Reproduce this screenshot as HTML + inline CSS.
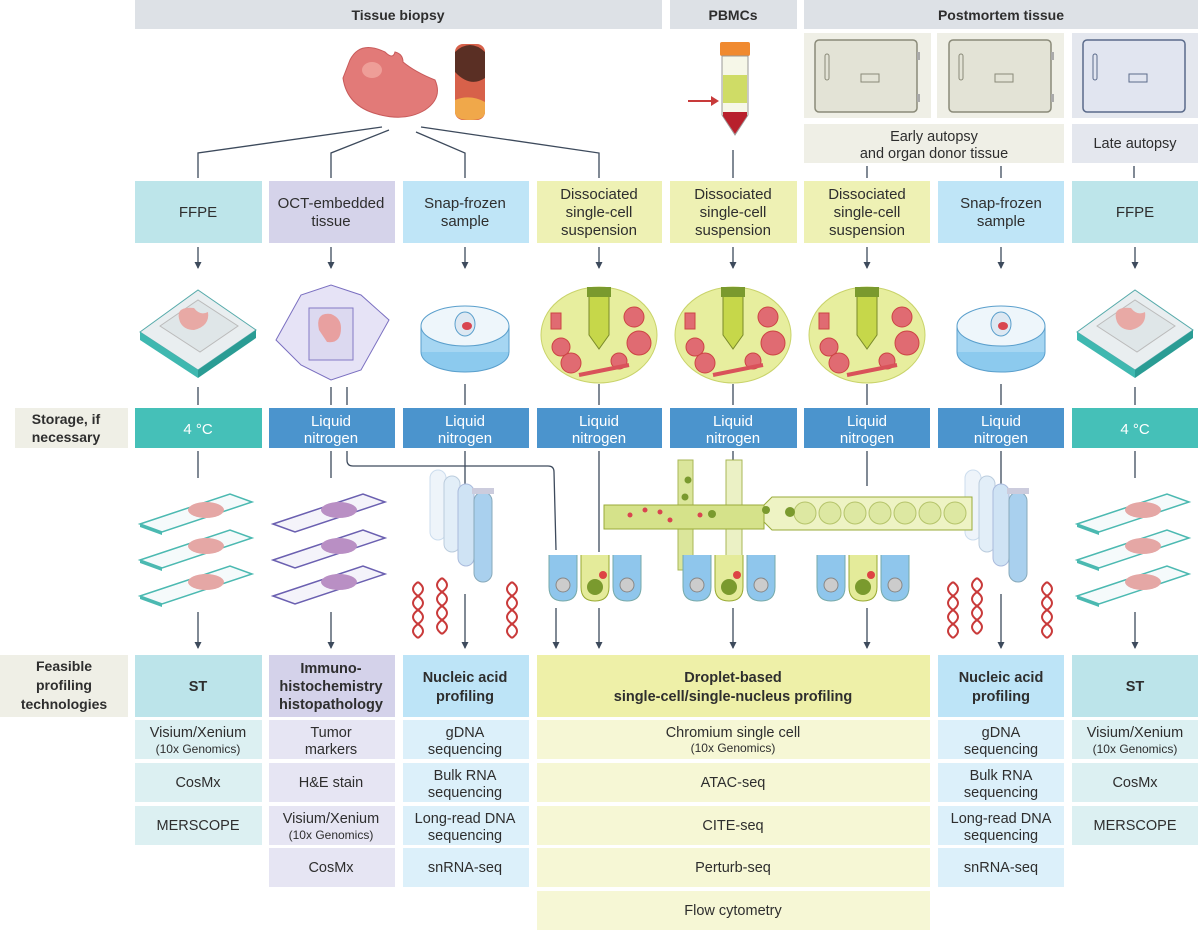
<!DOCTYPE html>
<html><head><meta charset="utf-8"><style>
html,body{margin:0;padding:0;background:#fff}
svg{display:block}
text{font-family:"Liberation Sans",sans-serif;fill:#2e2e2e;text-anchor:middle}
.b{font-weight:bold}
.w{fill:#fff}
.ln{stroke:#3d4a5c;stroke-width:1.3;fill:none}
</style></head><body>
<svg width="1200" height="933" viewBox="0 0 1200 933" xmlns="http://www.w3.org/2000/svg">
<defs>
<marker id="ah" markerWidth="8" markerHeight="8" refX="6" refY="3.5" orient="auto" markerUnits="userSpaceOnUse">
<path d="M0,0 L7,3.5 L0,7 Z" fill="#3d4a5c"/></marker>
<g id="cass">
<path d="M-58,20 L0,-22 L58,18 L0,58 Z" fill="#e9eef0" stroke="#5aa" stroke-width="1"/>
<path d="M-58,20 L0,58 L0,66 L-58,28 Z" fill="#3fb8b0"/>
<path d="M0,58 L58,18 L58,26 L0,66 Z" fill="#2a9c94"/>
<path d="M-38,14 L0,-12 L40,14 L2,40 Z" fill="#dfe6e8" stroke="#bbb"/>
<path d="M-18,10 q-6,-16 14,-14 q6,8 14,4 q2,14 -14,18 q-10,0 -14,-8z" fill="#e8a9a5"/>
</g>
<g id="bowl">
<ellipse cx="0" cy="0" rx="58" ry="48" fill="#e7ee9e" stroke="#c9d36a"/>
<circle cx="-38" cy="12" r="9" fill="#e06b72" stroke="#c44"/>
<circle cx="35" cy="-18" r="10" fill="#e06b72" stroke="#c44"/>
<circle cx="40" cy="8" r="12" fill="#e06b72" stroke="#c44"/>
<circle cx="-28" cy="28" r="10" fill="#e06b72" stroke="#c44"/>
<circle cx="20" cy="26" r="8" fill="#e06b72" stroke="#c44"/>
<rect x="-48" y="-22" width="10" height="16" fill="#e06b72" stroke="#c44"/>
<path d="M-20,40 L30,30" stroke="#d9525a" stroke-width="4"/>
<path d="M-10,-40 L10,-40 L10,0 L0,14 L-10,0 Z" fill="#c6d74a" stroke="#7a8a2a"/>
<rect x="-12" y="-48" width="24" height="10" fill="#7a9a2e"/>
</g>
<g id="tubes">
<rect x="-40" y="-30" width="16" height="70" rx="8" fill="#eef4fa" stroke="#cde"/>
<rect x="-26" y="-24" width="16" height="76" rx="8" fill="#e2eef8" stroke="#bcd"/>
<rect x="-12" y="-16" width="16" height="82" rx="8" fill="#cfe3f4" stroke="#abd"/>
<rect x="4" y="-8" width="18" height="90" rx="9" fill="#a9d0ee" stroke="#8ab"/>
<rect x="2" y="-12" width="22" height="6" fill="#ccd"/>
</g>
<g id="dna">
<path d="M0,0 q10,7 0,14 q-10,7 0,14 q10,7 0,14 q-10,7 0,14" stroke="#c93a3a" stroke-width="2" fill="none"/>
<path d="M0,0 q-10,7 0,14 q10,7 0,14 q-10,7 0,14 q10,7 0,14" stroke="#c93a3a" stroke-width="2" fill="none"/>
</g>
<g id="wells">
<path d="M-50,0 L-50,32 q0,14 14,14 q14,0 14,-14 L-22,0" fill="#8fc6ec" stroke="#7aa"/>
<path d="M-18,0 L-18,32 q0,14 14,14 q14,0 14,-14 L10,0" fill="#e4eb9a" stroke="#9a3"/>
<path d="M14,0 L14,32 q0,14 14,14 q14,0 14,-14 L42,0" fill="#8fc6ec" stroke="#7aa"/>
<circle cx="-36" cy="30" r="7" fill="#ccc" stroke="#888"/><circle cx="-4" cy="32" r="8" fill="#7a9a2e"/><circle cx="4" cy="20" r="4" fill="#d44"/><circle cx="28" cy="30" r="7" fill="#ccc" stroke="#888"/>
</g>
<g id="slide">
<path d="M0,0 L90,-30 L112,-22 L22,8 Z" fill="#f5fafb" stroke="#4bb9b1" stroke-width="1.5"/>
<path d="M0,0 L22,8 L22,11 L0,3 Z" fill="#4bb9b1"/>
<ellipse cx="66" cy="-14" rx="18" ry="8" fill="#e5a7a5"/>
</g>
<g id="fridge">
<rect x="-52" y="-36" width="102" height="72" rx="4" fill="#e3e3d6" stroke="#8a8a78" stroke-width="1.5"/>
<rect x="-42" y="-22" width="4" height="26" rx="2" fill="none" stroke="#8a8a78"/>
<rect x="-6" y="-2" width="18" height="8" fill="none" stroke="#8a8a78"/>
<rect x="50" y="-24" width="3" height="8" fill="#aaa"/><rect x="50" y="18" width="3" height="8" fill="#aaa"/>
</g>
<g id="dish">
<ellipse cx="0" cy="24" rx="44" ry="20" fill="#8ccaee" stroke="#5a9fcc"/>
<rect x="-44" y="-2" width="88" height="26" fill="#a6d6f2"/>
<line x1="-44" y1="-2" x2="-44" y2="24" stroke="#5a9fcc"/><line x1="44" y1="-2" x2="44" y2="24" stroke="#5a9fcc"/>
<ellipse cx="0" cy="-2" rx="44" ry="20" fill="#eef6fb" stroke="#5a9fcc"/>
<ellipse cx="0" cy="-4" rx="10" ry="12" fill="#dde8f2" stroke="#5a9fcc"/>
<ellipse cx="2" cy="-2" rx="5" ry="4" fill="#d9454f"/>
</g>
</defs>

<rect x="135" y="0" width="527" height="29" fill="#dde1e6"/>
<rect x="670" y="0" width="127" height="29" fill="#dde1e6"/>
<rect x="804" y="0" width="394" height="29" fill="#dde1e6"/>
<text x="398" y="20" class="b" font-size="14">Tissue biopsy</text>
<text x="733" y="20" class="b" font-size="14">PBMCs</text>
<text x="1001" y="20" class="b" font-size="14">Postmortem tissue</text>

<path d="M350,60 q10,-20 35,-8 q8,8 10,0 q8,2 8,10 q12,10 32,18 q8,18 -10,30 q-20,12 -48,4 q-30,-8 -34,-36 z" fill="#e27a78" stroke="#c85a5a"/>
<ellipse cx="372" cy="70" rx="10" ry="8" fill="#ee9e98"/>
<rect x="455" y="44" width="30" height="76" rx="8" fill="#d7614a"/>
<path d="M455,52 q15,-14 30,0 L485,78 q-15,10 -30,-6 z" fill="#5a2f24"/>
<path d="M455,100 q15,-6 30,2 L485,112 q0,8 -15,8 q-15,0 -15,-8z" fill="#f0a84a"/>
<rect x="720" y="42" width="30" height="14" rx="2" fill="#f08a30"/>
<path d="M722,56 L748,56 L748,115 L735,135 L722,115 Z" fill="#f6f7e8" stroke="#999"/>
<rect x="723" y="75" width="24" height="28" fill="#cfdc66"/>
<path d="M723,112 L747,112 L747,116 L735,134 L723,116 Z" fill="#b8202c"/>
<line x1="688" y1="101" x2="712" y2="101" stroke="#c83a3a" stroke-width="2"/><path d="M711,96 L719,101 L711,106 Z" fill="#c83a3a"/>
<rect x="804" y="33" width="127" height="85" fill="#efefe6"/>
<rect x="937" y="33" width="127" height="85" fill="#efefe6"/>
<rect x="1072" y="33" width="126" height="85" fill="#e4e7ee"/>
<use href="#fridge" x="867" y="76"/><use href="#fridge" x="1001" y="76"/>
<g transform="translate(1135,76)"><rect x="-52" y="-36" width="102" height="72" rx="4" fill="#e1e5f0" stroke="#5a6a8a" stroke-width="1.5"/><rect x="-42" y="-22" width="4" height="26" rx="2" fill="none" stroke="#5a6a8a"/><rect x="-6" y="-2" width="18" height="8" fill="none" stroke="#5a6a8a"/></g>
<rect x="804" y="124" width="260" height="39" fill="#efefe6"/>
<rect x="1072" y="124" width="126" height="39" fill="#e4e7ee"/>
<text x="934" y="141" font-size="14.5">Early autopsy</text>
<text x="934" y="158" font-size="14.5">and organ donor tissue</text>
<text x="1135" y="148" font-size="14.5">Late autopsy</text>

<path class="ln" d="M382,127 L198,153 L198,178"/>
<path class="ln" d="M389,130 L331,153 L331,178"/>
<path class="ln" d="M416,132 L465,153 L465,178"/>
<path class="ln" d="M421,127 L599,153 L599,178"/>
<path class="ln" d="M733,150 L733,178"/>
<path class="ln" d="M867,166 L867,178 M1001,166 L1001,178 M1134,166 L1134,178"/>

<rect x="135" y="181" width="127" height="62" fill="#bde5ea"/>
<rect x="269" y="181" width="126" height="62" fill="#d5d3ea"/>
<rect x="403" y="181" width="126" height="62" fill="#bfe5f7"/>
<rect x="537" y="181" width="125" height="62" fill="#eef1b4"/>
<rect x="670" y="181" width="127" height="62" fill="#eef1b4"/>
<rect x="804" y="181" width="126" height="62" fill="#eef1b4"/>
<rect x="938" y="181" width="126" height="62" fill="#bfe5f7"/>
<rect x="1072" y="181" width="126" height="62" fill="#bde5ea"/>
<g font-size="15">
<text x="198" y="217">FFPE</text>
<text x="331" y="208">OCT-embedded</text><text x="331" y="226">tissue</text>
<text x="465" y="208">Snap-frozen</text><text x="465" y="226">sample</text>
<text x="599" y="199">Dissociated</text><text x="599" y="217">single-cell</text><text x="599" y="235">suspension</text>
<text x="733" y="199">Dissociated</text><text x="733" y="217">single-cell</text><text x="733" y="235">suspension</text>
<text x="867" y="199">Dissociated</text><text x="867" y="217">single-cell</text><text x="867" y="235">suspension</text>
<text x="1001" y="208">Snap-frozen</text><text x="1001" y="226">sample</text>
<text x="1135" y="217">FFPE</text>
</g>

<g class="ln" marker-end="url(#ah)">
<path d="M198,247 L198,268"/><path d="M331,247 L331,268"/><path d="M465,247 L465,268"/><path d="M599,247 L599,268"/>
<path d="M733,247 L733,268"/><path d="M867,247 L867,268"/><path d="M1001,247 L1001,268"/><path d="M1135,247 L1135,268"/>
</g>

<use href="#cass" x="198" y="312"/>
<use href="#cass" x="1135" y="312"/>
<g transform="translate(331,330)">
<path d="M-55,10 L-30,-35 L0,-45 L30,-35 L58,-10 L30,40 L0,50 L-30,35 Z" fill="#e6e3f6" stroke="#7a6fc0"/>
<rect x="-22" y="-22" width="44" height="52" fill="#dcd8f0" stroke="#7a6fc0" opacity=".9"/>
<path d="M-12,0 q-4,-18 12,-16 q10,4 10,14 q0,16 -14,14 z" fill="#e8a0a0"/>
</g>
<use href="#dish" x="465" y="328"/>
<use href="#dish" x="1001" y="328"/>
<use href="#bowl" x="599" y="335"/>
<use href="#bowl" x="733" y="335"/>
<use href="#bowl" x="867" y="335"/>

<path class="ln" d="M198,387 L198,405 M331,387 L331,405 M347,387 L347,405 M465,384 L465,405 M599,384 L599,405 M733,384 L733,405 M867,384 L867,405 M1001,384 L1001,405 M1135,387 L1135,405"/>

<rect x="15" y="408" width="113" height="40" fill="#efefe6"/>
<text x="66" y="424" class="b" font-size="14">Storage, if</text>
<text x="66" y="442" class="b" font-size="14">necessary</text>
<rect x="135" y="408" width="127" height="40" fill="#45c0b8"/>
<rect x="269" y="408" width="126" height="40" fill="#4b94cd"/>
<rect x="403" y="408" width="126" height="40" fill="#4b94cd"/>
<rect x="537" y="408" width="125" height="40" fill="#4b94cd"/>
<rect x="670" y="408" width="127" height="40" fill="#4b94cd"/>
<rect x="804" y="408" width="126" height="40" fill="#4b94cd"/>
<rect x="938" y="408" width="126" height="40" fill="#4b94cd"/>
<rect x="1072" y="408" width="126" height="40" fill="#45c0b8"/>
<g font-size="15">
<text x="198" y="434" class="w">4 °C</text>
<text x="1135" y="434" class="w">4 °C</text>
<text x="331" y="426" class="w">Liquid</text><text x="331" y="443" class="w">nitrogen</text>
<text x="465" y="426" class="w">Liquid</text><text x="465" y="443" class="w">nitrogen</text>
<text x="599" y="426" class="w">Liquid</text><text x="599" y="443" class="w">nitrogen</text>
<text x="733" y="426" class="w">Liquid</text><text x="733" y="443" class="w">nitrogen</text>
<text x="867" y="426" class="w">Liquid</text><text x="867" y="443" class="w">nitrogen</text>
<text x="1001" y="426" class="w">Liquid</text><text x="1001" y="443" class="w">nitrogen</text>
</g>

<path class="ln" d="M198,451 L198,478 M1135,451 L1135,478 M331,451 L331,478 M465,451 L465,486 M599,451 L599,552 M733,451 L733,460 M867,451 L867,486 M1001,451 L1001,486"/>
<path class="ln" d="M347,451 L347,460 q0,6 6,6 L548,466 q6,0 6,6 L556,550"/>

<use href="#slide" x="140" y="524"/><use href="#slide" x="140" y="560"/><use href="#slide" x="140" y="596"/>
<use href="#slide" x="1077" y="524"/><use href="#slide" x="1077" y="560"/><use href="#slide" x="1077" y="596"/>
<g transform="translate(273,0)">
<path d="M0,524 L90,494 L112,502 L22,532 Z" fill="#f4f3fa" stroke="#6a5fb0" stroke-width="1.5"/><ellipse cx="66" cy="510" rx="18" ry="8" fill="#b98fc4"/>
<path d="M0,560 L90,530 L112,538 L22,568 Z" fill="#f4f3fa" stroke="#6a5fb0" stroke-width="1.5"/><ellipse cx="66" cy="546" rx="18" ry="8" fill="#b98fc4"/>
<path d="M0,596 L90,566 L112,574 L22,604 Z" fill="#f4f3fa" stroke="#6a5fb0" stroke-width="1.5"/><ellipse cx="66" cy="582" rx="18" ry="8" fill="#b98fc4"/>
</g>
<use href="#tubes" x="470" y="500"/>
<use href="#tubes" x="1005" y="500"/>
<use href="#dna" x="418" y="582"/><use href="#dna" x="442" y="578"/><use href="#dna" x="512" y="582"/>
<use href="#dna" x="953" y="582"/><use href="#dna" x="977" y="578"/><use href="#dna" x="1047" y="582"/>

<rect x="678" y="460" width="15" height="110" fill="#d5e28a" stroke="#9aab3a" opacity=".85"/>
<rect x="726" y="460" width="16" height="110" fill="#e8efbc" stroke="#9aab3a" opacity=".85"/>
<rect x="604" y="505" width="160" height="24" fill="#d5e28a" stroke="#9aab3a"/>
<path d="M764,505 L772,497 L972,497 L972,530 L772,530 L764,522 Z" fill="#eef3c4" stroke="#9aab3a"/>
<g fill="#dde8a2" stroke="#b5c46a"><circle cx="805" cy="513" r="11"/><circle cx="830" cy="513" r="11"/><circle cx="855" cy="513" r="11"/><circle cx="880" cy="513" r="11"/><circle cx="905" cy="513" r="11"/><circle cx="930" cy="513" r="11"/><circle cx="955" cy="513" r="11"/></g>
<g fill="#d9454f"><circle cx="630" cy="515" r="2.5"/><circle cx="645" cy="510" r="2.5"/><circle cx="660" cy="512" r="2.5"/><circle cx="670" cy="520" r="2.5"/><circle cx="700" cy="515" r="2.5"/></g>
<g fill="#7a9a2e"><circle cx="688" cy="480" r="3.5"/><circle cx="685" cy="497" r="3.5"/><circle cx="712" cy="514" r="4"/><circle cx="766" cy="510" r="4"/><circle cx="790" cy="512" r="5"/></g>
<use href="#wells" x="599" y="555"/>
<use href="#wells" x="733" y="555"/>
<use href="#wells" x="867" y="555"/>

<g class="ln" marker-end="url(#ah)">
<path d="M198,612 L198,648"/><path d="M331,612 L331,648"/><path d="M465,594 L465,648"/>
<path d="M556,608 L556,648"/><path d="M599,608 L599,648"/><path d="M733,608 L733,648"/>
<path d="M867,608 L867,648"/><path d="M1001,594 L1001,648"/><path d="M1135,612 L1135,648"/>
</g>

<rect x="0" y="655" width="128" height="62" fill="#efefe6"/>
<text x="64" y="671" class="b" font-size="14">Feasible</text>
<text x="64" y="690" class="b" font-size="14">profiling</text>
<text x="64" y="709" class="b" font-size="14">technologies</text>

<rect x="135" y="655" width="127" height="62" fill="#bce4ea"/>
<rect x="269" y="655" width="126" height="62" fill="#d4d2ea"/>
<rect x="403" y="655" width="126" height="62" fill="#bde4f7"/>
<rect x="537" y="655" width="393" height="62" fill="#eef0a8"/>
<rect x="938" y="655" width="126" height="62" fill="#bde4f7"/>
<rect x="1072" y="655" width="126" height="62" fill="#bce4ea"/>
<g class="b" font-size="14.5">
<text x="198" y="691">ST</text>
<text x="1135" y="691">ST</text>
<text x="331" y="673">Immuno-</text><text x="331" y="691">histochemistry</text><text x="331" y="709">histopathology</text>
<text x="465" y="682">Nucleic acid</text><text x="465" y="701">profiling</text>
<text x="1001" y="682">Nucleic acid</text><text x="1001" y="701">profiling</text>
<text x="733" y="682">Droplet-based</text><text x="733" y="701">single-cell/single-nucleus profiling</text>
</g>

<g fill="#dcf0f2"><rect x="135" y="720" width="127" height="39"/><rect x="135" y="763" width="127" height="39"/><rect x="135" y="806" width="127" height="39"/>
<rect x="1072" y="720" width="126" height="39"/><rect x="1072" y="763" width="126" height="39"/><rect x="1072" y="806" width="126" height="39"/></g>
<g fill="#e6e5f3"><rect x="269" y="720" width="126" height="39"/><rect x="269" y="763" width="126" height="39"/><rect x="269" y="806" width="126" height="39"/><rect x="269" y="848" width="126" height="39"/></g>
<g fill="#dcf0fa"><rect x="403" y="720" width="126" height="39"/><rect x="403" y="763" width="126" height="39"/><rect x="403" y="806" width="126" height="39"/><rect x="403" y="848" width="126" height="39"/>
<rect x="938" y="720" width="126" height="39"/><rect x="938" y="763" width="126" height="39"/><rect x="938" y="806" width="126" height="39"/><rect x="938" y="848" width="126" height="39"/></g>
<g fill="#f6f7d5"><rect x="537" y="720" width="393" height="39"/><rect x="537" y="763" width="393" height="39"/><rect x="537" y="806" width="393" height="39"/><rect x="537" y="848" width="393" height="39"/><rect x="537" y="891" width="393" height="39"/></g>

<g font-size="14.5">
<text x="198" y="737">Visium/Xenium</text><text x="198" y="753" font-size="12">(10x Genomics)</text>
<text x="198" y="787">CosMx</text><text x="198" y="830">MERSCOPE</text>
<text x="1135" y="737">Visium/Xenium</text><text x="1135" y="753" font-size="12">(10x Genomics)</text>
<text x="1135" y="787">CosMx</text><text x="1135" y="830">MERSCOPE</text>
<text x="331" y="737">Tumor</text><text x="331" y="754">markers</text>
<text x="331" y="787">H&amp;E stain</text>
<text x="331" y="823">Visium/Xenium</text><text x="331" y="839" font-size="12">(10x Genomics)</text>
<text x="331" y="872">CosMx</text>
<text x="465" y="737">gDNA</text><text x="465" y="754">sequencing</text>
<text x="465" y="780">Bulk RNA</text><text x="465" y="797">sequencing</text>
<text x="465" y="823">Long-read DNA</text><text x="465" y="840">sequencing</text>
<text x="465" y="872">snRNA-seq</text>
<text x="1001" y="737">gDNA</text><text x="1001" y="754">sequencing</text>
<text x="1001" y="780">Bulk RNA</text><text x="1001" y="797">sequencing</text>
<text x="1001" y="823">Long-read DNA</text><text x="1001" y="840">sequencing</text>
<text x="1001" y="872">snRNA-seq</text>
<text x="733" y="737">Chromium single cell</text><text x="733" y="752" font-size="12">(10x Genomics)</text>
<text x="733" y="787">ATAC-seq</text>
<text x="733" y="830">CITE-seq</text>
<text x="733" y="872">Perturb-seq</text>
<text x="733" y="915">Flow cytometry</text>
</g>
</svg>
</body></html>
